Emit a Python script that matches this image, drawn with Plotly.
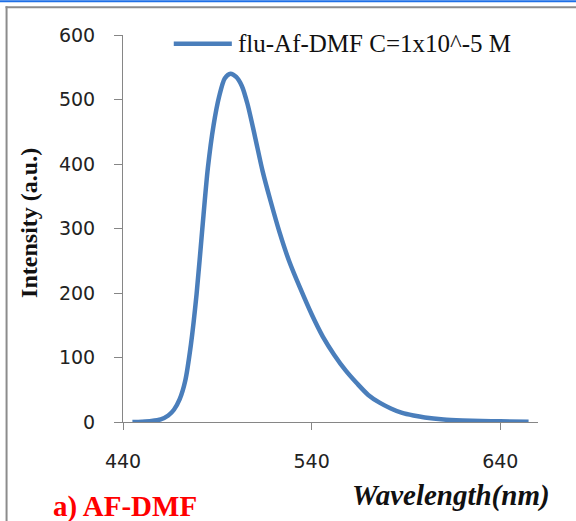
import plotly.graph_objects as go

# Fluorescence emission spectrum of AF in DMF (C = 1x10^-5 M)
wavelength_nm = [445, 450, 455, 460, 464, 467, 470, 473, 476, 479, 482, 485, 488,
                 491, 494, 497, 500, 503, 506, 510, 514, 518, 523, 528, 534, 540,
                 546, 552, 558, 564, 570, 576, 582, 588, 594, 600, 610, 620, 630,
                 640, 655]
intensity_au = [0, 0.5, 1.5, 4, 10, 19, 35, 64, 120, 198, 298, 394, 460,
                505, 533, 540, 535, 521, 493, 442, 389, 345, 294, 250, 207, 167,
                132, 104, 80, 60, 42, 30, 21, 14, 10, 7, 4, 2.5, 1.5,
                1, 0.5]

series_name = "flu-Af-DMF C=1x10^-5 M"
x_ticks = [440, 540, 640]
y_ticks = [0, 100, 200, 300, 400, 500, 600]

W, H = 576, 521
L, R, T, B = 123.3, 38.2, 34.7, 99.3
PW, PH = W - L - R, H - T - B


def px(x):
    """pixel x -> paper x"""
    return (x - L) / PW


def py(y):
    """pixel y (from top) -> paper y"""
    return (H - B - y) / PH


AXIS_GREY = "#868686"
LINE_BLUE = "#4A7EBB"
SERIF = "Liberation Serif, Times New Roman, serif"
SANS = "DejaVu Sans, Verdana, sans-serif"

fig = go.Figure()
fig.add_trace(go.Scatter(
    x=wavelength_nm, y=intensity_au, mode="lines", name=series_name,
    line=dict(color=LINE_BLUE, width=4.5, shape="spline", smoothing=0.8),
    showlegend=False,
))

fig.update_layout(
    width=W, height=H,
    margin=dict(l=L, r=R, t=T, b=B, autoexpand=False),
    paper_bgcolor="white", plot_bgcolor="white",
    xaxis=dict(
        range=[440, 660], tickvals=x_ticks, ticktext=[str(v) for v in x_ticks],
        ticks="outside", ticklen=7, tickcolor=AXIS_GREY, tickwidth=1,
        showline=True, linecolor=AXIS_GREY, linewidth=1,
        showgrid=False, zeroline=False, ticklabelstandoff=15,
        tickfont=dict(family=SANS, size=19, color="#222222"),
    ),
    yaxis=dict(
        range=[0, 600], tickvals=y_ticks, ticktext=[str(v) for v in y_ticks],
        ticks="outside", ticklen=8, tickcolor=AXIS_GREY, tickwidth=1,
        showline=True, linecolor=AXIS_GREY, linewidth=1,
        showgrid=False, zeroline=False, ticklabelstandoff=15,
        tickfont=dict(family=SANS, size=19, color="#222222"),
    ),
    shapes=[
        # blue strip along the top edge
        dict(type="rect", xref="paper", yref="paper",
             x0=px(0), x1=px(W), y0=py(0), y1=py(2),
             fillcolor="#1E6FE6", line=dict(width=0), layer="above"),
        # grey frame (top and left edges)
        dict(type="line", xref="paper", yref="paper",
             x0=px(6), x1=px(W), y0=py(7), y1=py(7),
             line=dict(color="#8C8C8C", width=2)),
        dict(type="line", xref="paper", yref="paper",
             x0=px(7), x1=px(7), y0=py(6), y1=py(H),
             line=dict(color="#8C8C8C", width=2)),
        # legend key line
        dict(type="line", xref="paper", yref="paper",
             x0=px(174), x1=px(232), y0=py(43.5), y1=py(43.5),
             line=dict(color=LINE_BLUE, width=4.5)),
    ],
    annotations=[
        dict(text=series_name, xref="paper", yref="paper",
             x=px(236), y=py(43.5), xanchor="left", yanchor="middle",
             showarrow=False, font=dict(family=SERIF, size=25, color="#111111")),
        dict(text="<b>Intensity (a.u.)</b>", xref="paper", yref="paper",
             x=px(30), y=py(223), xanchor="center", yanchor="middle",
             textangle=-90, showarrow=False,
             font=dict(family=SERIF, size=24, color="#111111")),
        dict(text="<b><i>Wavelength(nm)</i></b>", xref="paper", yref="paper",
             x=px(451), y=py(495), xanchor="center", yanchor="middle",
             showarrow=False, font=dict(family=SERIF, size=29, color="#111111")),
        dict(text="<b>a) AF-DMF</b>", xref="paper", yref="paper",
             x=px(125), y=py(506), xanchor="center", yanchor="middle",
             showarrow=False, font=dict(family=SERIF, size=29, color="#FF0000")),
    ],
)

fig.write_html("out.html")
